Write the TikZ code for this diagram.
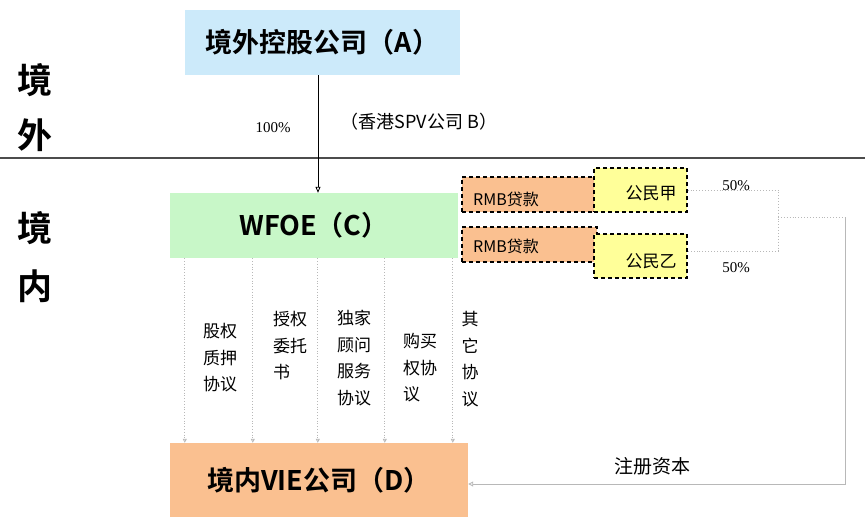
\documentclass[tikz,border=0pt]{standalone}
\usepackage{fontspec}
\setmainfont{Liberation Serif}
\newfontfamily\cjk{Noto Sans CJK SC}
\newfontfamily\cjkb{Noto Sans CJK SC Bold}
\usetikzlibrary{arrows.meta}
\definecolor{boxblue}{HTML}{CCEAFA}
\definecolor{boxgreen}{HTML}{C8F7C8}
\definecolor{boxorange}{HTML}{FAC090}
\definecolor{boxyellow}{HTML}{FFFF99}
\definecolor{lgray}{HTML}{B8B8B8}
\tikzset{
  bigbox/.style={fill=#1, draw=none, inner sep=0pt, font=\cjkb\fontsize{27}{30}\selectfont},
  dashbox/.style={fill=#1, draw=black, dash pattern=on 4pt off 3pt, line width=1.2pt, inner sep=0pt},
  region/.style={font=\cjkb\fontsize{35}{40}\selectfont},
  vlabel/.style={font=\cjk\fontsize{17}{26.5}\selectfont, align=left, inner sep=0pt},
  vline/.style={lgray, dotted, line width=0.8pt, -{Triangle[open,length=4pt,width=4pt]}},
  pct/.style={font=\fontsize{15}{18}\selectfont, inner sep=0pt},
  tipopen/.style={-{Triangle[open,length=6pt,width=5pt]}}
}
\begin{document}
\begin{tikzpicture}[x=1pt,y=-1pt]
\useasboundingbox (0,0) rectangle (865,523);
% region labels
\node[region] (jw1) at (35,80) {境};
\node[region] (jw2) at (35,135) {外};
\node[region] (jn1) at (35,228) {境};
\node[region] (jn2) at (35,286) {内};
\coordinate (ll) at (0,158);
\coordinate (lr) at (865,158);
\draw[line width=1.4pt, black!70] (ll) -- (lr);
% main boxes
\node[bigbox=boxblue, minimum width=275pt, minimum height=65pt] (A) at (322.5,42.5) {境外控股公司（A）};
\node[bigbox=boxgreen, minimum width=288pt, minimum height=65pt] (W) at (314,225.5) {WFOE（C）};
\node[bigbox=boxorange, minimum width=298pt, minimum height=74pt] (D) at (319,480) {境内VIE公司（D）};
% A -> WFOE
\draw[line width=0.8pt, tipopen] (A.south -| 318,0) -- (W.north -| 318,0);
\node[pct] (p100) at (273,128) {100\%};
\node[font=\cjk\fontsize{18}{20}\selectfont, inner sep=0pt] (spv) at (419,122) {（香港SPV公司 B）};
% loans and citizens
\node[dashbox=boxorange, minimum width=135pt, minimum height=35pt] (r1) at (529.5,194.5) {};
\node[font=\cjk\fontsize{16}{18}\selectfont, anchor=west, inner sep=0pt] (r1t) at (473,199) {RMB贷款};
\node[dashbox=boxyellow, minimum width=93pt, minimum height=44pt] (jia) at (640.5,190) {};
\node[font=\cjk\fontsize{17}{18}\selectfont, inner sep=0pt] (jiat) at (651,193) {公民甲};
\node[dashbox=boxorange, minimum width=135pt, minimum height=35pt] (r2) at (529.5,244.5) {};
\node[font=\cjk\fontsize{16}{18}\selectfont, anchor=west, inner sep=0pt] (r2t) at (473,246) {RMB贷款};
\node[dashbox=boxyellow, minimum width=93pt, minimum height=44pt] (yi) at (640.5,256) {};
\node[font=\cjk\fontsize{17}{18}\selectfont, inner sep=0pt] (yit) at (651,261) {公民乙};
% bracket
\coordinate (bx) at (778,217);
\coordinate (cx) at (845,217);
\draw[lgray, dotted, line width=0.9pt] (jia.east) -| (bx) |- ([yshift=5pt]yi.east);
\draw[lgray, dotted, line width=0.9pt] (bx) -- (cx);
\draw[lgray, line width=0.9pt, -{Triangle[open,length=5pt,width=5pt]}] (cx) |- ([yshift=-4pt]D.east);
\node[pct] (p50a) at (736,186) {50\%};
\node[pct] (p50b) at (736,268) {50\%};
\node[font=\cjk\fontsize{19}{22}\selectfont, inner sep=0pt] (zc) at (652,466) {注册资本};
% agreement lines
\foreach \x in {15,83,148,215,283}
  \draw[vline] ([xshift=\x pt]W.south west) -- ([xshift=\x pt]W.south west |- D.north);
\node[vlabel] (l1) at (220,358) {股权\\质押\\协议};
\node[vlabel] (l2) at (290,346) {授权\\委托\\书};
\node[vlabel] (l3) at (354,358) {独家\\顾问\\服务\\协议};
\node[vlabel] (l4) at (420,368) {购买\\权协\\议};
\node[vlabel] (l5) at (470,359) {其\\它\\协\\议};
\end{tikzpicture}
\end{document}
